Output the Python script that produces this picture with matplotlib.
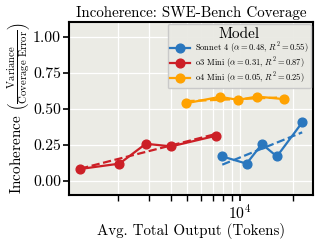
import numpy as np
import matplotlib
matplotlib.use('Agg')
import matplotlib.pyplot as plt
from matplotlib.ticker import LogLocator, NullFormatter

plt.rcParams['font.family'] = ['cmr10']
plt.rcParams['mathtext.fontset'] = 'cm'
plt.rcParams['axes.formatter.use_mathtext'] = True

# Data
models = ['Sonnet 4', 'o3 Mini', 'o4 Mini']
labels = [r'Sonnet 4 ($\alpha = 0.48$, $R^2 = 0.55$)',
          r'o3 Mini ($\alpha = 0.31$, $R^2 = 0.87$)',
          r'o4 Mini ($\alpha = 0.05$, $R^2 = 0.25$)']
colors = ['#2a77be', '#cc1f26', '#ffa200']

sonnet_x = [7910, 10890, 13330, 16230, 22650]
sonnet_y = [0.168, 0.118, 0.254, 0.168, 0.404]
o3_x = [1218, 2042, 2890, 4036, 7300]
o3_y = [0.081, 0.118, 0.256, 0.238, 0.312]
o4_x = [4935, 7670, 9770, 12470, 17900]
o4_y = [0.538, 0.582, 0.561, 0.584, 0.566]

xs = [sonnet_x, o3_x, o4_x]
ys = [sonnet_y, o3_y, o4_y]

fig, ax = plt.subplots(figsize=(3.19, 2.45), dpi=100)
ax.set_facecolor('#ebebe5')
ax.grid(True, which='both', color='white', linewidth=0.9)
ax.set_axisbelow(True)

for x, y, c, lab in zip(xs, ys, colors, labels):
    x = np.array(x, dtype=float)
    y = np.array(y)
    ax.plot(x, y, '-o', color=c, linewidth=1.6, markersize=6.3, label=lab, zorder=3)
    k, b = np.polyfit(np.log10(x), y, 1)
    xf = np.array([x.min(), x.max()])
    ax.plot(xf, b + k * np.log10(xf), '--', color=c, linewidth=1.6, zorder=3)

ax.set_xscale('log')
ax.set_xlim(1054, 26100)
ax.set_ylim(-0.1, 1.1)
ax.set_yticks([0.0, 0.25, 0.5, 0.75, 1.0])
ax.set_yticklabels(['0.00', '0.25', '0.50', '0.75', '1.00'])
ax.xaxis.set_minor_locator(LogLocator(base=10, subs=np.arange(2, 10)))
ax.xaxis.set_minor_formatter(NullFormatter())

for s in ax.spines.values():
    s.set_color('black')
    s.set_linewidth(1.5)
ax.tick_params(axis='both', which='major', length=4, width=1.2, labelsize=11.3, pad=2)
ax.tick_params(axis='x', which='minor', length=4, width=1.0)

ax.set_title('Incoherence: SWE-Bench Coverage', fontsize=10.8, pad=4)
ax.set_xlabel('Avg. Total Output (Tokens)', fontsize=10.8, labelpad=1)
ax.set_ylabel(r'Incoherence $\left(\frac{\mathrm{Variance}}{\mathrm{Coverage\ Error}}\right)$',
              fontsize=11, labelpad=1)

leg = ax.legend(title='Model', loc='upper right', fontsize=6.1, title_fontsize=11,
                frameon=True, facecolor='#e9e9e3', edgecolor='#c8c8c8',
                handlelength=2.4, handletextpad=0.5, borderpad=0.3,
                labelspacing=0.0, borderaxespad=0.25, markerscale=1.0)
leg.get_frame().set_alpha(0.95)

fig.subplots_adjust(left=0.217, right=0.981, top=0.909, bottom=0.204)
fig.savefig('out.png', dpi=100)
